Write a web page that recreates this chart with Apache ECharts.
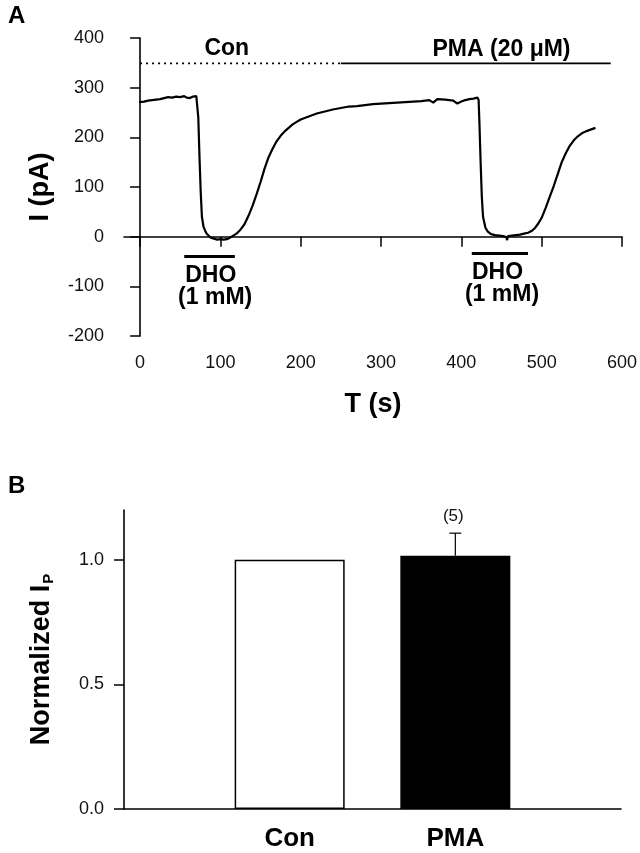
<!DOCTYPE html>
<html>
<head>
<meta charset="utf-8">
<script src="https://cdn.jsdelivr.net/npm/echarts@6/dist/echarts.min.js"></script>
<style>html,body{margin:0;padding:0;background:#fff}#c{width:640px;height:853px}</style>
</head>
<body>
<div id="c"></div>
<script>
// ---------- Panel A data ----------
const traceT = [-1,5,10,15,20,25,30,35,40,45,50,55,58,62,66,70,71.5,72.5,74,75.5,77,79,81,83,85,88,92,96,100,104,108,112,116,120,125,130,135,140,145,150,155,160,165,170,175,180,185,190,195,200,210,220,230,240,250,260,270,280,290,300,310,320,330,340,350,360,365,370,380,390,395,400,405,410,415,420,421.5,422.5,424,425.5,427,430,433,437,442,447,452,456,457,458,463,468,473,478,483,488,492,496,500,505,510,515,520,525,530,535,540,545,550,555,560,567];
const traceI = [271,272,274,275,276,277,279,281,280,282,281,283,280,279,282,283,280,240,160,90,40,20,12,6,5,-2,-4,-6,-5,-6,-5,-2,2,6,14,25,42,62,85,110,137,160,177,192,203,212,219,226,231,236,242,248,252,256,259,262,263,265,267,268,269,270,271,272,273,275,270,277,276,274,268,272,275,277,278,280,275,230,150,80,40,18,10,5,3,2,1,-1,-7,1,2,3,4,6,8,12,18,27,38,58,80,102,126,150,168,183,194,202,208,212,215,219];
const xTicksA = [0,100,200,300,400,500,600];
const conSegT = [0,250], conSegI = [349,349];
const pmaSegT = [250,586], pmaSegI = [349,349];
const dho1T = [55,118], dho1I = [-40,-40];
const dho2T = [413,483], dho2I = [-34,-34];
const annoText = ['Con','PMA (20 μM)','DHO','(1 mM)','DHO','(1 mM)'];
const annoT = [108,450,88,93.5,445,450.6];
const annoI = [378,376,-78,-123,-72,-117];

// ---------- Panel B data ----------
const barCats = ['Con','PMA'];
const barX = [1,2];
const barMean = [1.0,1.016];
const barErrTop = [null,1.107];
const barN = ['', '(5)'];
const yTicksB = [0,0.5,1.0];

const zip = (a,b)=>a.map((v,i)=>[v,b[i]]);
const FONT = 'Liberation Sans, Arial, sans-serif';
const axisLine = {show:true, lineStyle:{color:'#000', width:1.6}};
const axisTick = {show:true, inside:false, length:10, lineStyle:{color:'#000', width:1.5}};

const chart = echarts.init(document.getElementById('c'), null, {renderer:'canvas'});
chart.setOption({
  animation:false,
  backgroundColor:'#fff',
  textStyle:{fontFamily:FONT},
  graphic:[
    {type:'text', left:8, top:4, style:{text:'A', font:'bold 24px '+FONT, fill:'#000'}},
    {type:'text', left:8, top:474, style:{text:'B', font:'bold 24px '+FONT, fill:'#000'}}
  ],
  grid:[
    {left:124, top:38, width:498, height:298},
    {left:124, top:510, width:497, height:299}
  ],
  xAxis:[
    {gridIndex:0, type:'value', min:-20, max:600,
     axisLine:axisLine, splitLine:{show:false},
     axisTick:Object.assign({}, axisTick, {customValues:xTicksA}),
     axisLabel:{customValues:xTicksA, fontSize:18, color:'#111', margin:18, fontFamily:FONT},
     name:'T (s)', nameLocation:'middle', nameGap:55,
     nameTextStyle:{fontSize:27, fontWeight:'bold', color:'#000', fontFamily:FONT}},
    {gridIndex:1, type:'value', min:0, max:3,
     axisLine:axisLine, splitLine:{show:false}, axisTick:{show:false},
     axisLabel:{customValues:barX, formatter:v=>barCats[barX.indexOf(v)] || '',
       fontSize:26, fontWeight:'bold', color:'#000', margin:17, fontFamily:FONT}}
  ],
  yAxis:[
    {gridIndex:0, type:'value', min:-200, max:400, interval:100,
     axisLine:axisLine, axisTick:axisTick, splitLine:{show:false},
     axisLabel:{fontSize:18, color:'#111', margin:20, fontFamily:FONT},
     name:'I (pA)', nameLocation:'middle', nameGap:70,
     nameTextStyle:{fontSize:27, fontWeight:'bold', color:'#000', fontFamily:FONT}},
    {gridIndex:1, type:'value', min:0, max:1.2,
     axisLine:axisLine, splitLine:{show:false},
     axisTick:Object.assign({}, axisTick, {customValues:yTicksB}),
     axisLabel:{customValues:yTicksB, formatter:v=>v.toFixed(1), fontSize:18, color:'#111', margin:20, fontFamily:FONT},
     name:'{a|Normalized I}{b|P}', nameLocation:'middle', nameGap:68,
     nameTextStyle:{rich:{
       a:{fontSize:27, fontWeight:'bold', color:'#000', fontFamily:FONT},
       b:{fontSize:15, fontWeight:'bold', color:'#000', fontFamily:FONT, padding:[14,0,0,1]}}}}
  ],
  series:[
    {type:'line', xAxisIndex:0, yAxisIndex:0, data:zip(traceT,traceI), showSymbol:false,
     lineStyle:{color:'#000', width:2.2}},
    {type:'line', xAxisIndex:0, yAxisIndex:0, data:zip(conSegT,conSegI), showSymbol:false,
     lineStyle:{color:'#000', width:1.6, type:[2,4]}},
    {type:'line', xAxisIndex:0, yAxisIndex:0, data:zip(pmaSegT,pmaSegI), showSymbol:false,
     lineStyle:{color:'#000', width:1.6}},
    {type:'line', xAxisIndex:0, yAxisIndex:0, data:zip(dho1T,dho1I), showSymbol:false,
     lineStyle:{color:'#000', width:3}},
    {type:'line', xAxisIndex:0, yAxisIndex:0, data:zip(dho2T,dho2I), showSymbol:false,
     lineStyle:{color:'#000', width:3}},
    {type:'scatter', xAxisIndex:0, yAxisIndex:0, symbolSize:0, silent:true,
     data:annoText.map((t,i)=>({name:t, value:[annoT[i], annoI[i]]})),
     itemStyle:{color:'#000', opacity:1},
     label:{show:true, position:'inside', formatter:p=>p.name, fontSize:23, fontWeight:'bold',
       color:'#000', textBorderWidth:0, opacity:1, fontFamily:FONT}},
    {type:'bar', xAxisIndex:1, yAxisIndex:1, barWidth:110,
     data:barX.map((x,i)=>({value:[x, barMean[i]],
       itemStyle:{color: i===0 ? '#fff' : '#000', borderColor:'#000', borderWidth:1.5}}))},
    {type:'custom', xAxisIndex:1, yAxisIndex:1, silent:true,
     data:barX.map((x,i)=>[x, barMean[i], barErrTop[i]]).filter(d=>d[2]!=null),
     renderItem:(params, api)=>{
       const base = api.coord([api.value(0), api.value(1)]);
       const top = api.coord([api.value(0), api.value(2)]);
       const idx = barX.indexOf(api.value(0));
       return {type:'group', children:[
         {type:'line', shape:{x1:top[0], y1:base[1], x2:top[0], y2:top[1]}, style:{stroke:'#000', lineWidth:1.2}},
         {type:'line', shape:{x1:top[0]-6, y1:top[1], x2:top[0]+6, y2:top[1]}, style:{stroke:'#000', lineWidth:1.2}},
         {type:'text', x:top[0]-2, y:top[1]-17, style:{text:barN[idx], font:'17px '+FONT, fill:'#111', align:'center', verticalAlign:'middle'}}
       ]};
     }}
  ]
});
</script>
</body>
</html>
